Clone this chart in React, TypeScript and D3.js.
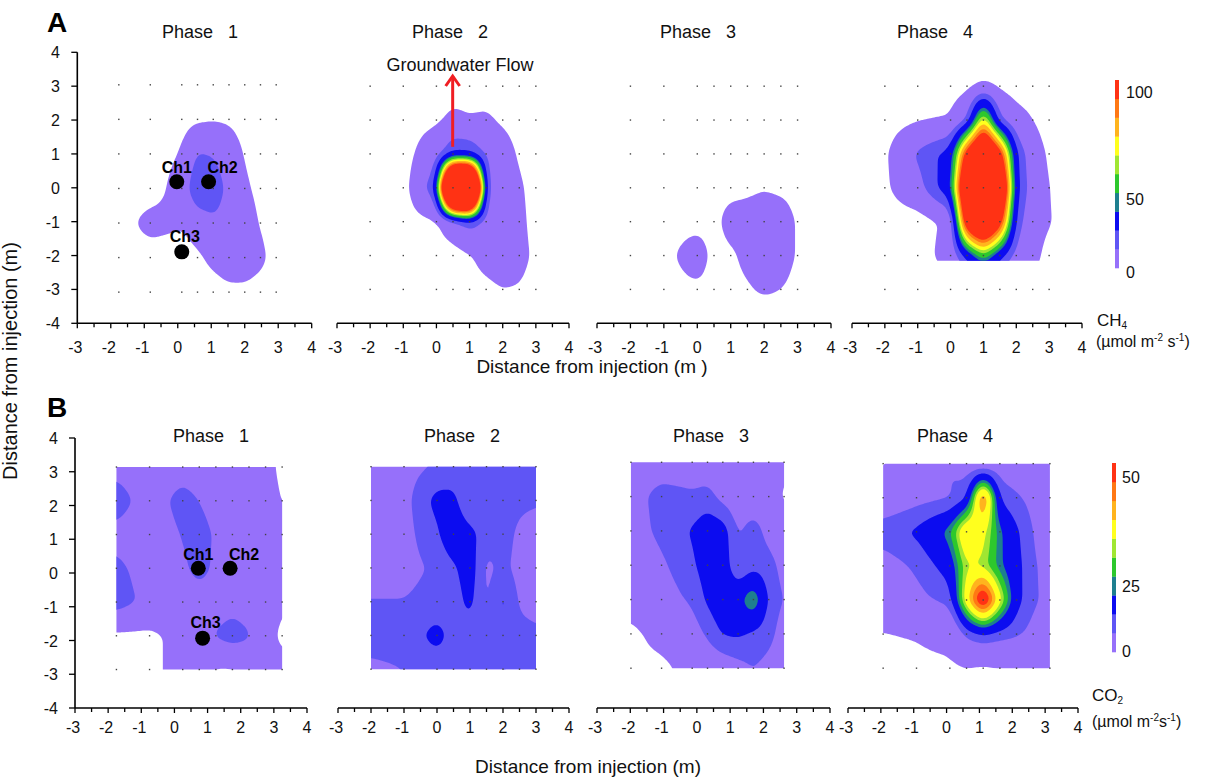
import React, { useMemo } from "react";
import * as d3 from "d3";

// measurement grid (m from injection point)
const nodeX = [-2, -1, 0, 0.5, 1, 1.5, 2, 2.5, 3];
const nodeY = [3, 2, 1, 0, -1, -2, -3];

// CH4 flux at the grid, rows from y = 3 down to y = -3
const ch4Phase1 = [
  [0, 0, 0, 0, 0, 0, 0, 0, 0],
  [0, 0, 1, 3, 4, 3.5, 1, 0, 0],
  [0, 0, 5.7, 21, 19, 12, 4, 0, 0],
  [0, 0, 10, 32, 30, 15, 7, 2, 0],
  [0, 9, 6, 11, 17, 14, 11, 4, 0],
  [0, 0, 0, 3, 8, 13, 13, 8, 0],
  [0, 0, 0, 0, 0, 2, 2, 0, 0],
];
const ch4Phase2 = [
  [0, 0, 0, 0, 0, 0, 0, 0, 0],
  [0, 0, 3, 8, 6, 7, 3, 0, 0],
  [0, 0, 15, 31, 30, 18, 12, 3, 0],
  [0, 0, 30, 260, 260, 19, 14, 7, 0],
  [0, 0, 4, 14, 26, 15, 12, 9, 0],
  [0, 0, 0, 0, 4, 10, 12, 10, 2],
  [0, 0, 0, 0, 0, 2, 5, 4, 0],
];
const ch4Phase3 = [
  [0, 0, 0, 0, 0, 0, 0, 0, 0],
  [0, 0, 0, 0, 0, 0, 0, 0, 0],
  [0, 0, 0, 0, 0, 0, 0, 0, 0],
  [0, 0, 0, 0, 0, 2, 4, 2, 0],
  [0, 0, 0, 0, 12, 12, 15, 14, 3],
  [0, 0, 14, 0, 2, 10, 17, 14, 3],
  [0, 0, 2, 0, 0, 3, 8, 5, 0],
];
const ch4Phase4 = [
  [0, 0, 0, 2, 8, 3, 0, 0, 0],
  [0, 4, 6, 20, 80, 22, 10, 5, 0],
  [3, 22, 35, 110, 150, 110, 30, 12, 3],
  [3, 15, 40, 150, 160, 150, 32, 14, 5],
  [0, 0, 8, 120, 150, 110, 25, 12, 6],
  [0, 0, 10, 35, 60, 35, 15, 10, 0],
  [0, 0, 0, 0, 0, 0, 0, 0, 0],
];

// CO2 flux at the grid
const co2Phase1 = [
  [11, 8, 10, 8, 7, 7, 6, 5, 0],
  [18.5, 9, 17.5, 14, 9, 8, 7, 6, 1.5],
  [11, 8, 14.5, 18.5, 12.5, 8, 8, 7, 6],
  [16, 10, 12, 17.5, 12, 8, 8, 7, 6],
  [18.5, 11, 8, 9, 9, 11, 9, 7, 3],
  [0, 0, 5, 8, 15, 18, 15, 6, 0],
  [0, 0, 5, 6, 1, 1, 5, 6, 5],
];
const co2Phase2 = [
  [12, 12, 14.5, 15, 15, 15, 15, 15, 14.5],
  [12, 12, 21, 21, 13, 16, 16, 15, 14.5],
  [12, 12, 18, 24, 21, 16, 16, 13, 12],
  [12, 12, 15, 18, 22.5, 12.5, 15.5, 12, 11],
  [14.2, 14.2, 16, 16, 21, 12.5, 21, 13, 12],
  [16, 16, 21, 17, 16, 16, 17, 16, 15],
  [13, 14, 16, 16, 16, 17, 19.5, 18, 15],
];
const co2Phase3 = [
  [10, 10, 10, 10, 10, 10, 10, 10, 4],
  [11, 16.5, 15, 16, 12, 10, 10, 10, 0],
  [11, 15.5, 19.5, 23, 22, 13.2, 16.5, 12, 10],
  [9, 13, 18, 22, 23, 14, 17, 16, 12],
  [6, 11, 15, 20, 24, 24, 31, 18, 13.5],
  [0, 5, 11, 15, 19.5, 20, 18, 16, 11],
  [0, 0, 5, 9, 10, 12, 14, 12, 10],
];
const co2Phase4 = [
  [1, 9, 14.5, 10, 8, 10, 9, 7, 1],
  [9, 12, 13.5, 18, 52, 18, 15, 12, 8],
  [17, 20, 28, 44, 38, 27, 20, 14, 8],
  [11, 15, 22, 36, 35, 27, 21, 15, 11],
  [9, 12, 16, 40, 60, 38, 21, 15, 12],
  [1.5, 2.6, 5, 16, 19.5, 17, 15, 12, 9],
  [0, 0, 0.5, 1.5, 0.5, 1.5, 3, 6, 3],
];

const ch4Levels = [5, 20, 30, 46, 52, 62, 69, 78, 88, 96];
const co2Levels = [2, 14, 19, 26, 29, 33, 36, 42, 46, 50];
const bandColors = [
  "#9670fa", "#5f55f5", "#0c0cf0", "#1e7f8f", "#2dc82d",
  "#a0e632", "#ffff1e", "#ffb41e", "#ff7814", "#ff3214",
];
const ch4BarTicks = [0, 50, 100];
const co2BarTicks = [0, 25, 50];
const xTickLabels = [-3, -2, -1, 0, 1, 2, 3, 4];
const yTickLabels = [-4, -3, -2, -1, 0, 1, 2, 3, 4];
const phaseLabels = ["Phase 1", "Phase 2", "Phase 3", "Phase 4"];
const chamberNames = ["Ch1", "Ch2", "Ch3"];
const chamberXA = [-0.03, 0.92, 0.12];
const chamberYA = [0.18, 0.18, -1.89];
const chamberXB = [0.72, 1.68, 0.85];
const chamberYB = [0.14, 0.14, -1.93];
const flowX = 0.49;
const flowY = [1.21, 3.33];

const FONT = "'Liberation Sans', Arial, Helvetica, sans-serif";
const GX0 = -3, GY0 = 4, STEP = 0.05;
const NX = 141, NY = 161;

function bilinear(xs, ys, rows, x, y) {
  const cx = Math.max(xs[0], Math.min(xs[xs.length - 1], x));
  const cy = Math.max(ys[0], Math.min(ys[ys.length - 1], y));
  const i = Math.min(Math.max(d3.bisectRight(xs, cx) - 1, 0), xs.length - 2);
  const j = Math.min(Math.max(d3.bisectRight(ys, cy) - 1, 0), ys.length - 2);
  const tx = (cx - xs[i]) / (xs[i + 1] - xs[i]);
  const ty = (cy - ys[j]) / (ys[j + 1] - ys[j]);
  const a = rows[j][i] * (1 - tx) + rows[j][i + 1] * tx;
  const b = rows[j + 1][i] * (1 - tx) + rows[j + 1][i + 1] * tx;
  return a * (1 - ty) + b * ty;
}

function boxBlur(src, w, h, r) {
  const tmp = new Float64Array(w * h);
  const out = new Float64Array(w * h);
  const n = 2 * r + 1;
  for (let j = 0; j < h; j++)
    for (let i = 0; i < w; i++) {
      let s = 0;
      for (let k = -r; k <= r; k++) s += src[j * w + Math.min(w - 1, Math.max(0, i + k))];
      tmp[j * w + i] = s / n;
    }
  for (let j = 0; j < h; j++)
    for (let i = 0; i < w; i++) {
      let s = 0;
      for (let k = -r; k <= r; k++) s += tmp[Math.min(h - 1, Math.max(0, j + k)) * w + i];
      out[j * w + i] = s / n;
    }
  return out;
}

function field(grid, pad) {
  let xs = nodeX.slice();
  let ys = nodeY.slice().reverse();
  let rows = grid.slice().reverse().map((r) => r.slice());
  if (pad === "zero") {
    xs = [xs[0] - 0.5, ...xs, xs[xs.length - 1] + 0.5];
    ys = [ys[0] - 0.5, ...ys, ys[ys.length - 1] + 0.5];
    rows = rows.map((r) => [0, ...r, 0]);
    const zeros = xs.map(() => 0);
    rows = [zeros, ...rows, zeros];
  }
  let v = new Float64Array(NX * NY);
  for (let j = 0; j < NY; j++)
    for (let i = 0; i < NX; i++) v[j * NX + i] = bilinear(xs, ys, rows, GX0 + i * STEP, GY0 - j * STEP);
  v = boxBlur(v, NX, NY, 3);
  v = boxBlur(v, NX, NY, 2);
  return Array.from(v);
}

const rowA = {
  letter: "A", yRange: [323.3, 52.3], letterY: 32, titleY: 38, tickY: 353,
  labelX: 60, xTitle: "Distance from injection (m )", xTitleX: 592, xTitleY: 373,
  levels: ch4Levels,
  panels: [
    { grid: ch4Phase1, range: [77.3, 311.7], titleX: 200, tf: [0.94, 0.12, 1.02, -0.02], pad: "zero" },
    { grid: ch4Phase2, range: [337, 569], titleX: 450, tf: [1, 0, 1, 0], pad: "zero" },
    { grid: ch4Phase3, range: [597, 831], titleX: 698, tf: [1, 0, 1, 0], pad: "zero" },
    { grid: ch4Phase4, range: [852, 1082], titleX: 935, tf: [1, 0, 1, 0], pad: "zero", clip: [-2.6, 3.6, -2.15, 3.6] },
  ],
};
const rowB = {
  letter: "B", yRange: [708, 438], letterY: 417, titleY: 442, tickY: 733,
  labelX: 58, xTitle: "Distance from injection (m)", xTitleX: 588, xTitleY: 773,
  levels: co2Levels,
  panels: [
    { grid: co2Phase1, range: [75, 307], titleX: 211, tf: [1, 0.25, 1, 0.14], pad: "clamp", clip: [-2, 3, -3, 3] },
    { grid: co2Phase2, range: [338, 569], titleX: 462, tf: [1, 0, 1, 0.15], pad: "clamp", clip: [-2, 3, -3, 3] },
    { grid: co2Phase3, range: [597, 830], titleX: 711, tf: [0.92, -0.14, 1.017, 0.23], pad: "clamp", clip: [-2, 3, -3, 3] },
    { grid: co2Phase4, range: [848, 1078], titleX: 955, tf: [1.015, 0.1, 1.01, 0.21], pad: "clamp", clip: [-2, 3, -3, 3] },
  ],
};

function Panel({ row, p, idx }) {
  const x = d3.scaleLinear().domain([-3, 4]).range(p.range);
  const y = d3.scaleLinear().domain([-4, 4]).range(row.yRange);
  const [sx, dx, sy, dy] = p.tf;
  const px = (nx) => x(sx * nx + dx);
  const py = (ny) => y(sy * ny + dy);

  const paths = useMemo(() => {
    const values = field(p.grid, p.pad);
    const contours = d3.contours().size([NX, NY]).thresholds(row.levels)(values);
    const proj = d3.geoTransform({
      point(cx, cy) {
        this.stream.point(px(GX0 + (cx - 0.5) * STEP), py(GY0 - (cy - 0.5) * STEP));
      },
    });
    const gp = d3.geoPath(proj);
    return contours.map((c) => gp(c));
  }, [p]);

  const clipId = `clip-${row.letter}-${idx}`;
  const c = p.clip;
  const y0 = row.yRange[0];
  const ticks = d3.range(-3, 4.001, 0.5);

  return (
    <g>
      {c && (
        <clipPath id={clipId}>
          <rect x={px(c[0])} y={py(c[3])} width={px(c[1]) - px(c[0])} height={py(c[2]) - py(c[3])} />
        </clipPath>
      )}
      <g clipPath={c ? `url(#${clipId})` : undefined}>
        {paths.map((d, i) => (
          <path key={i} d={d || ""} fill={bandColors[i]} stroke="none" />
        ))}
      </g>
      {nodeY.map((ny) =>
        nodeX.map((nx) => (
          <rect key={`${nx}_${ny}`} x={px(nx) - 0.7} y={py(ny) - 0.7} width={1.4} height={1.4} fill="#444" />
        ))
      )}
      <text x={p.titleX} y={row.titleY} textAnchor="middle" fontSize={18} fontFamily={FONT} fill="#111">
        {phaseLabels[idx].replace(" ", "\u00a0\u00a0\u00a0")}
      </text>
      <line x1={x(-3)} x2={x(4)} y1={y0} y2={y0} stroke="#000" strokeWidth={1.6} />
      {ticks.map((t) => (
        <line key={t} x1={x(t)} x2={x(t)} y1={y0} y2={y0 + (Number.isInteger(t) ? 5 : 4)} stroke="#000" strokeWidth={1.3} />
      ))}
      {xTickLabels.map((t) => (
        <text key={t} x={x(t) - (t < 0 ? 2 : 0)} y={row.tickY} textAnchor="middle" fontSize={16} fontFamily={FONT} fill="#111">
          {t}
        </text>
      ))}
    </g>
  );
}

function YAxis({ row, xPos }) {
  const y = d3.scaleLinear().domain([-4, 4]).range(row.yRange);
  return (
    <g>
      <line x1={xPos} x2={xPos} y1={y(-4)} y2={y(4)} stroke="#000" strokeWidth={1.6} />
      {yTickLabels.map((t) => (
        <g key={t}>
          <line x1={xPos - 6} x2={xPos} y1={y(t)} y2={y(t)} stroke="#000" strokeWidth={1.3} />
          <text x={row.labelX} y={y(t) + 6} textAnchor="end" fontSize={16} fontFamily={FONT} fill="#111">
            {t}
          </text>
        </g>
      ))}
    </g>
  );
}

function ColorBar({ levels, x, top, bottom, ticks, tickPos, labelX }) {
  const band = d3.scaleBand().domain(d3.range(levels.length)).range([bottom, top]).paddingInner(0);
  const ty = d3.scaleLinear().domain(ticks).range(tickPos);
  return (
    <g>
      {levels.map((l, i) => (
        <rect key={l} x={x} y={band(i)} width={4} height={band.bandwidth() + 0.3} fill={bandColors[i]} />
      ))}
      {ticks.map((t) => (
        <text key={t} x={labelX} y={ty(t) + 6} fontSize={16} fontFamily={FONT} fill="#111">
          {t}
        </text>
      ))}
    </g>
  );
}

function Chambers({ row, p, xs, ys }) {
  const x = d3.scaleLinear().domain([-3, 4]).range(p.range);
  const y = d3.scaleLinear().domain([-4, 4]).range(row.yRange);
  const off = [[0, -8.4], [14, -8.4], [3, -10]];
  return (
    <g>
      {chamberNames.map((n, i) => (
        <circle key={n} cx={x(xs[i])} cy={y(ys[i])} r={7.5} fill="#000" />
      ))}
      {chamberNames.map((n, i) => (
        <text key={n + "t"} x={x(xs[i]) + off[i][0]} y={y(ys[i]) + off[i][1]} textAnchor="middle"
          fontSize={16} fontWeight="bold" fontFamily={FONT} fill="#000">
          {n}
        </text>
      ))}
    </g>
  );
}

export default function App() {
  const pA2 = rowA.panels[1];
  const ax = d3.scaleLinear().domain([-3, 4]).range(pA2.range);
  const ay = d3.scaleLinear().domain([-4, 4]).range(rowA.yRange);
  const arrowX = ax(flowX);
  const tipY = ay(flowY[1]);
  return (
    <svg width={1216} height={779} style={{ position: "absolute", left: 0, top: 0, background: "#fff" }}>
      {[rowA, rowB].map((row) => (
        <g key={row.letter}>
          {row.panels.map((p, i) => (
            <Panel key={i} row={row} p={p} idx={i} />
          ))}
          <YAxis row={row} xPos={row.panels[0].range[0]} />
          <text x={47} y={row.letterY} fontSize={28} fontWeight="bold" fontFamily={FONT} fill="#000">
            {row.letter}
          </text>
          <text x={row.xTitleX} y={row.xTitleY} textAnchor="middle" fontSize={19} fontFamily={FONT} fill="#111">
            {row.xTitle}
          </text>
        </g>
      ))}
      <Chambers row={rowA} p={rowA.panels[0]} xs={chamberXA} ys={chamberYA} />
      <Chambers row={rowB} p={rowB.panels[0]} xs={chamberXB} ys={chamberYB} />

      <line x1={arrowX} x2={arrowX} y1={ay(flowY[0])} y2={tipY + 1} stroke="#f01e23" strokeWidth={3} />
      <polyline points={`${arrowX - 7},${tipY + 11} ${arrowX},${tipY + 1} ${arrowX + 7},${tipY + 11}`}
        fill="none" stroke="#f01e23" strokeWidth={3} />
      <text x={460} y={71} textAnchor="middle" fontSize={18} fontFamily={FONT} fill="#111">
        Groundwater Flow
      </text>

      <text x={17} y={361} transform="rotate(-90 17 361)" textAnchor="middle" fontSize={20} fontFamily={FONT} fill="#111">
        Distance from injection (m)
      </text>

      <ColorBar levels={ch4Levels} x={1115} top={80} bottom={268} ticks={ch4BarTicks} tickPos={[272, 199, 92]} labelX={1126} />
      <ColorBar levels={co2Levels} x={1112} top={463} bottom={652} ticks={co2BarTicks} tickPos={[651, 586, 477]} labelX={1122} />

      <text x={1097} y={326} fontSize={17} fontFamily={FONT} fill="#111">
        CH<tspan fontSize={10} dy={3}>4</tspan>
      </text>
      <text x={1096} y={347} fontSize={16} fontFamily={FONT} fill="#111">
        (µmol m<tspan fontSize={10} dy={-6}>-2</tspan>
        <tspan dy={6}> s</tspan>
        <tspan fontSize={10} dy={-6}>-1</tspan>
        <tspan dy={6}>)</tspan>
      </text>
      <text x={1092} y={701} fontSize={17} fontFamily={FONT} fill="#111">
        CO<tspan fontSize={10} dy={3}>2</tspan>
      </text>
      <text x={1092} y={727} fontSize={16} fontFamily={FONT} fill="#111">
        (µmol m<tspan fontSize={10} dy={-6}>-2</tspan>
        <tspan dy={6}>s</tspan>
        <tspan fontSize={10} dy={-6}>-1</tspan>
        <tspan dy={6}>)</tspan>
      </text>
    </svg>
  );
}
